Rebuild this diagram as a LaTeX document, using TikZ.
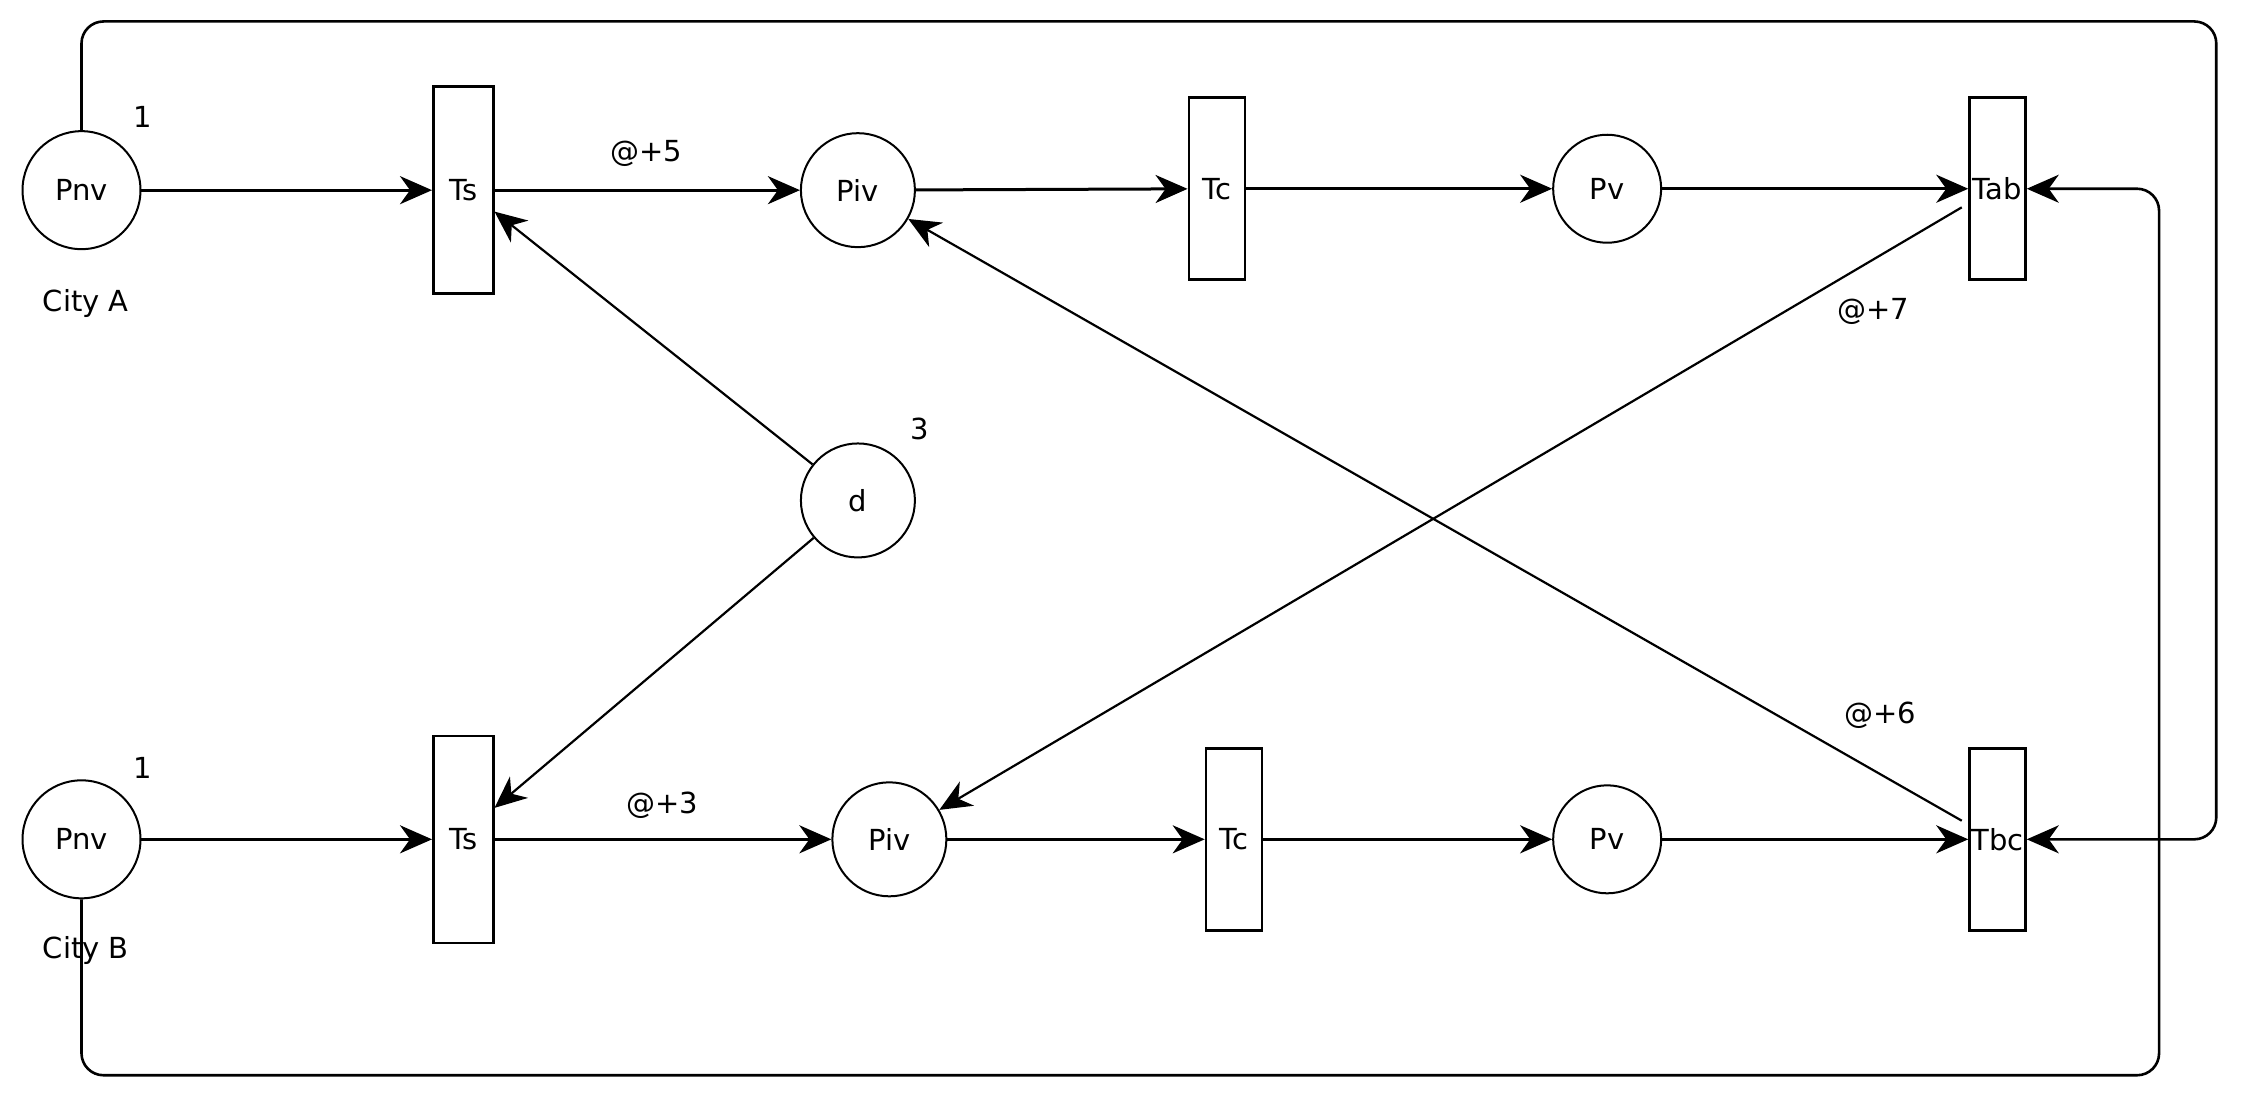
\documentclass[tikz,border=0pt]{standalone}
\usepackage{fontspec}
\setmainfont{DejaVu Sans}
\usetikzlibrary{arrows.meta}
\begin{document}
\begin{tikzpicture}[x=1.43pt,y=-1.43pt,
  pl/.style={circle,draw,line width=2pt,minimum size=#1,inner sep=0pt,font=\fontsize{29}{32}\selectfont},
  pl/.default=118pt,
  tr/.style={rectangle,draw,line width=2.5pt,minimum width=56pt,inner sep=0pt,font=\fontsize{29}{32}\selectfont},
  lab/.style={font=\fontsize{29}{32}\selectfont},
  arc/.style={line width=3pt,-{Stealth[length=32pt,width=28pt,inset=10pt]}},
  thin arc/.style={line width=2.2pt,-{Stealth[length=32pt,width=28pt,inset=10pt]}},
  loop/.style={line width=2.6pt,rounded corners=22pt,-{Stealth[length=32pt,width=28pt,inset=10pt]}}]
\useasboundingbox (0,0) rectangle (1568,775);
\node[pl] (PnvA) at (57,133) {Pnv};
\node[lab] at (60,212) {City A};
\node[lab] at (100,82) {1};
\node[tr,minimum height=207pt,minimum width=60pt] (TsA) at (324,133) {Ts};
\node[pl=114pt] (PivA) at (600,133) {Piv};
\node[tr,minimum height=182pt] (TcA) at (851,132) {Tc};
\node[pl=108pt] (PvA) at (1124,132) {Pv};
\node[tr,minimum height=182pt] (Tab) at (1397,132) {Tab};
\node[pl=114pt] (d) at (600,350) {d};
\node[lab] at (643,300) {3};
\node[pl] (PnvB) at (57,587) {Pnv};
\node[lab] at (60,665) {City B};
\node[lab] at (100,537) {1};
\node[tr,minimum height=207pt,minimum width=60pt] (TsB) at (324,587) {Ts};
\node[pl=114pt] (PivB) at (622,587) {Piv};
\node[tr,minimum height=182pt] (TcB) at (863,587) {Tc};
\node[pl=108pt] (PvB) at (1124,587) {Pv};
\node[tr,minimum height=182pt] (Tbc) at (1397,587) {Tbc};
\node[lab] at (452,107) {@+5};
\node[lab] at (463,563) {@+3};
\node[lab] at (1310,218) {@+7};
\node[lab] at (1315,500) {@+6};
\draw[arc] (PnvA) -- (TsA);
\draw[arc] (TsA) -- (PivA);
\draw[arc] (PivA) -- (TcA);
\draw[arc] (TcA) -- (PvA);
\draw[arc] (PvA) -- (Tab);
\draw[arc] (PnvB) -- (TsB);
\draw[arc] (TsB) -- (PivB);
\draw[arc] (PivB) -- (TcB);
\draw[arc] (TcB) -- (PvB);
\draw[arc] (PvB) -- (Tbc);
\draw[thin arc] (d) -- (TsA.east |- 0,148);
\draw[thin arc] (d) -- (TsB.east |- 0,565);
\draw[thin arc] (Tab.center) ++(-25,13) -- (PivB);
\draw[thin arc] (Tbc.center) ++(-25,-13) -- (PivA);
\draw[loop] (PnvA.north) |- (1550,15) |- (Tbc.east);
\draw[loop] (PnvB.south) |- (1510,752) |- (Tab.east);
\end{tikzpicture}
\end{document}
